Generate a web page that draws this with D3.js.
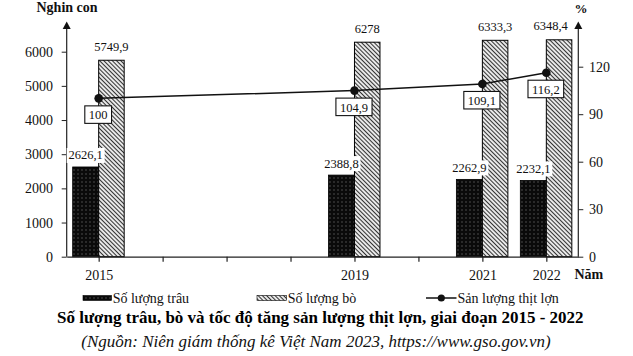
<!DOCTYPE html>
<html><head><meta charset="utf-8">
<script src="https://cdn.jsdelivr.net/npm/d3@7"></script>
<style>
body{margin:0;background:#fff;}
svg{display:block;}
svg text{font-family:"Liberation Serif","Times New Roman",serif !important;}
</style></head>
<body><svg id="c" width="633" height="356"></svg>
<script>
const years = [2015, 2019, 2021, 2022];
const buffalo = [2626.1, 2388.8, 2262.9, 2232.1];
const cattle = [5749.9, 6278, 6333.3, 6348.4];
const pork = [100, 104.9, 109.1, 116.2];
const leftTicks = [0, 1000, 2000, 3000, 4000, 5000, 6000];
const rightTicks = [0, 30, 60, 90, 120];
const yearTicks = [2015, 2016, 2017, 2018, 2019, 2020, 2021, 2022];
const labelYears = [2015, 2019, 2021, 2022];
const seriesNames = ["Số lượng trâu", "Số lượng bò", "Sản lượng thịt lợn"];
const fmt = v => String(v).replace(".", ",");

const svg = d3.select("#c");
const x = d3.scaleLinear().domain([2014.5, 2022.5]).range([66.7, 578.3]);
const yL = d3.scaleLinear().domain([0, 6000]).range([256.7, 51.7]);
const yR = d3.scaleLinear().domain([0, 120]).range([256.7, 66.7]);

const defs = svg.append("defs");
const pd = defs.append("pattern").attr("id", "dots").attr("patternUnits", "userSpaceOnUse")
  .attr("width", 4).attr("height", 4);
pd.append("rect").attr("width", 4).attr("height", 4).attr("fill", "#0a0a0a");
pd.append("rect").attr("x", 1.5).attr("y", 1.5).attr("width", 1).attr("height", 1).attr("fill", "#8a8a8a");
const ph = defs.append("pattern").attr("id", "hatch").attr("patternUnits", "userSpaceOnUse")
  .attr("width", 3).attr("height", 3).attr("patternTransform", "rotate(-45)");
ph.append("rect").attr("width", 3).attr("height", 3).attr("fill", "#e8e8e8");
ph.append("line").attr("x1", 0.5).attr("x2", 0.5).attr("y1", 0).attr("y2", 3)
  .attr("stroke", "#333").attr("stroke-width", 1);

const bw1 = 26, bw2 = 25.5;
// bars
svg.append("g").selectAll("rect").data(years).join("rect")
  .attr("x", (d) => x(d) - bw1).attr("width", bw1)
  .attr("y", (d, i) => yL(buffalo[i])).attr("height", (d, i) => yL(0) - yL(buffalo[i]))
  .attr("fill", "url(#dots)").attr("stroke", "#000").attr("stroke-width", 0.8);
svg.append("g").selectAll("rect").data(years).join("rect")
  .attr("x", (d) => x(d)).attr("width", bw2)
  .attr("y", (d, i) => yL(cattle[i])).attr("height", (d, i) => yL(0) - yL(cattle[i]))
  .attr("fill", "url(#hatch)").attr("stroke", "#000").attr("stroke-width", 1);

// axes
const gx = svg.append("g").attr("transform", `translate(0,${yL(0)})`)
  .call(d3.axisBottom(x).tickValues(yearTicks).tickSize(5).tickSizeOuter(0).tickPadding(8.4)
    .tickFormat(d => labelYears.includes(d) ? String(d) : ""));
gx.attr("font-family", null).attr("font-size", null);
gx.selectAll("text").attr("font-size", 14).attr("fill", "#111");
gx.selectAll("line,path").attr("stroke", "#222").attr("stroke-width", 1.2);

const gl = svg.append("g").attr("transform", `translate(${x.range()[0]},0)`)
  .call(d3.axisLeft(yL).tickValues(leftTicks).tickSize(5).tickPadding(8.7).tickFormat(d3.format("d")));
gl.attr("font-family", null).attr("font-size", null);
gl.select(".domain").remove();
gl.selectAll("text").attr("font-size", 14).attr("fill", "#111");
gl.selectAll("line").attr("stroke", "#222");

const gr = svg.append("g").attr("transform", `translate(${x.range()[1]},0)`)
  .call(d3.axisRight(yR).tickValues(rightTicks).tickSize(5).tickPadding(5.7).tickFormat(d3.format("d")));
gr.attr("font-family", null).attr("font-size", null);
gr.select(".domain").remove();
gr.selectAll("text").attr("font-size", 14).attr("fill", "#111");
gr.selectAll("line").attr("stroke", "#222");

[x.range()[0], x.range()[1]].forEach(ax => {
  svg.append("line").attr("x1", ax).attr("x2", ax).attr("y1", yL(0)).attr("y2", 27)
    .attr("stroke", "#222").attr("stroke-width", 1.2);
  svg.append("path").attr("d", `M${ax},21.5 L${ax - 4},29 L${ax + 4},29 Z`).attr("fill", "#111");
});

svg.append("text").attr("x", 36.5).attr("y", 12).attr("font-size", 14).attr("font-weight", "bold")
  .attr("fill", "#111").text("Nghin  con");
svg.append("text").attr("x", 574.5).attr("y", 13).attr("font-size", 13).attr("font-weight", "bold")
  .attr("fill", "#111").text("%");
svg.append("text").attr("x", 574.5).attr("y", 279).attr("font-size", 14).attr("font-weight", "bold")
  .attr("fill", "#111").text("Năm");

// cattle labels
svg.append("g").selectAll("text").data(years).join("text")
  .attr("x", (d, i) => i === years.length - 1 ? x(d) + bw2 - 4 : x(d) + bw2 / 2)
  .attr("text-anchor", (d, i) => i === years.length - 1 ? "end" : "middle")
  .attr("y", (d, i) => yL(cattle[i]) - 9.5)
  .attr("font-size", 12.5).attr("fill", "#111").text((d, i) => fmt(cattle[i]));

// buffalo labels with white background
const bl = svg.append("g").selectAll("g").data(years).join("g");
bl.append("rect").attr("x", d => x(d) - bw1 / 2 - 19).attr("width", 38)
  .attr("y", (d, i) => yL(buffalo[i]) - 19).attr("height", 15).attr("fill", "#fff");
bl.append("text").attr("x", d => x(d) - bw1 / 2).attr("text-anchor", "middle")
  .attr("y", (d, i) => yL(buffalo[i]) - 7.5)
  .attr("font-size", 12.5).attr("fill", "#111").text((d, i) => fmt(buffalo[i]));

// line
const line = d3.line().x(d => x(d[0])).y(d => yR(d[1]));
const pts = years.map((d, i) => [d, pork[i]]);
svg.append("path").datum(pts).attr("d", line).attr("fill", "none")
  .attr("stroke", "#111").attr("stroke-width", 1.5);
svg.append("g").selectAll("circle").data(pts).join("circle")
  .attr("cx", d => x(d[0])).attr("cy", d => yR(d[1])).attr("r", 4.3).attr("fill", "#111");

const pl = svg.append("g").selectAll("g").data(pts).join("g");
pl.each(function (d) {
  const g = d3.select(this);
  const t = g.append("text").attr("x", x(d[0]) - 0.5).attr("text-anchor", "middle")
    .attr("y", yR(d[1]) + 21).attr("font-size", 12.5).attr("fill", "#111").text(fmt(d[1]));
  const w = t.node().getComputedTextLength() + 8;
  g.insert("rect", "text").attr("x", x(d[0]) - 0.5 - w / 2).attr("width", w)
    .attr("y", yR(d[1]) + 7.5).attr("height", 17.5).attr("fill", "#fff")
    .attr("stroke", "#111").attr("stroke-width", 1.1);
});

// legend
const ly = 298;
svg.append("rect").attr("x", 83).attr("y", ly - 2.5).attr("width", 28.5).attr("height", 5)
  .attr("fill", "url(#dots)").attr("stroke", "#000").attr("stroke-width", 0.6);
svg.append("rect").attr("x", 257).attr("y", ly - 2.5).attr("width", 29.5).attr("height", 5)
  .attr("fill", "url(#hatch)").attr("stroke", "#000").attr("stroke-width", 0.6);
svg.append("line").attr("x1", 426).attr("x2", 456.5).attr("y1", ly).attr("y2", ly)
  .attr("stroke", "#111").attr("stroke-width", 1.5);
svg.append("circle").attr("cx", 441.3).attr("cy", ly).attr("r", 3.6).attr("fill", "#111");
[[112.7, 0], [287.7, 1], [457.5, 2]].forEach(([lx, i]) => {
  svg.append("text").attr("x", lx).attr("y", ly + 4.5).attr("font-size", 14).attr("fill", "#111")
    .text(seriesNames[i]);
});

svg.append("text").attr("x", 320.3).attr("y", 323).attr("text-anchor", "middle")
  .attr("font-size", 17).attr("font-weight", "bold").attr("fill", "#000")
  .text("Số lượng trâu, bò và tốc độ tăng sản lượng thịt lợn, giai đoạn 2015 - 2022");
svg.append("text").attr("x", 316).attr("y", 346.5).attr("text-anchor", "middle")
  .attr("font-size", 17).attr("font-style", "italic").attr("fill", "#111")
  .text("(Nguồn: Niên giám thống kê Việt Nam 2023, https://www.gso.gov.vn)");
</script></body></html>
